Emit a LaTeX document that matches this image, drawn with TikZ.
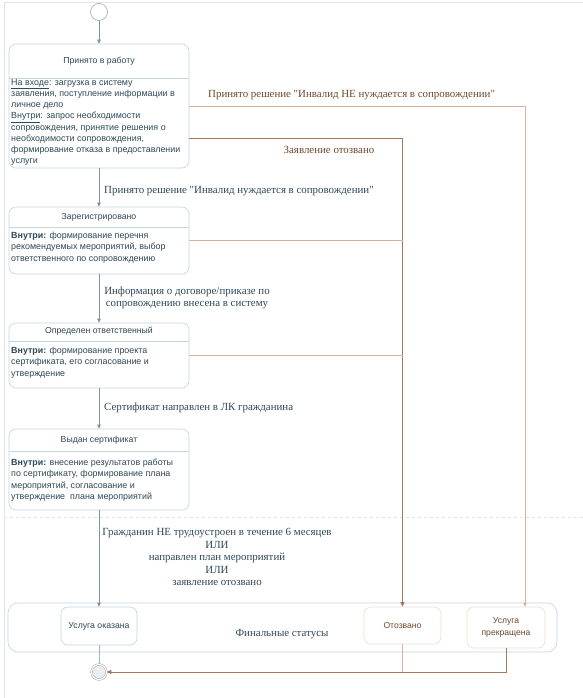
\documentclass[tikz,border=0pt]{standalone}
\usepackage{fontspec}
\setmainfont{Liberation Serif}
\newfontfamily\lblfont{Liberation Serif}
\newfontfamily\boxfont{Liberation Sans}
\usetikzlibrary{arrows.meta}
\definecolor{stline}{RGB}{196,212,222}
\definecolor{sttext}{RGB}{46,72,88}
\definecolor{arrline}{RGB}{128,148,160}
\definecolor{brline}{RGB}{214,180,158}
\definecolor{brdark}{RGB}{170,118,90}
\definecolor{brtext}{RGB}{112,72,46}
\definecolor{finbr}{RGB}{238,220,208}
\definecolor{framegr}{RGB}{228,228,228}
\tikzset{
  st/.style    ={draw=stline, line width=0.6pt, rounded corners=7pt, fill=white},
  stf/.style   ={draw=finbr, line width=0.6pt, rounded corners=7pt, fill=white},
  sttl/.style  ={font=\boxfont\fontsize{8.7}{11}\selectfont, text=sttext, inner sep=0pt},
  stbd/.style  ={font=\boxfont\fontsize{8.9}{11.2}\selectfont, text=sttext, align=left, inner sep=0pt, anchor=north west},
  finl/.style  ={font=\boxfont\fontsize{8.6}{11.2}\selectfont, text=brtext, align=center, inner sep=0pt},
  lbl/.style   ={font=\lblfont\fontsize{10.9}{12.5}\selectfont, text=sttext, inner sep=0pt},
  lblb/.style  ={lbl, text=brtext},
  ptr/.style   ={draw=arrline, line width=0.6pt, -{Triangle[length=4pt,width=3.5pt]}},
  bptr/.style  ={draw=brline, line width=0.8pt, -{Triangle[length=4pt,width=3.5pt]}},
  bptrd/.style ={draw=brdark, line width=1pt, -{Triangle[length=4.5pt,width=4pt]}},
  bln/.style   ={draw=brline, line width=0.8pt},
}
\begin{document}
\begin{tikzpicture}[x=1pt,y=-1pt]
  \useasboundingbox[fill=white] (0,0) rectangle (583,698);
  % frame
  \draw[framegr,line width=0.6pt] (4,698) -- (4,2) -- (583,2);
  \draw[framegr,line width=0.6pt,dashed] (4,517) -- (583,517);

  % start / end
  \node[circle, draw=stline!80!black, line width=0.6pt, fill=white, minimum size=17pt, inner sep=0pt] (init) at (99,12) {};
  \node[circle, draw=stline!80!black, double=white, double distance=1.2pt, line width=0.5pt, fill=black!7, minimum size=15pt, inner sep=0pt] (endc) at (99,672) {};

  % states
  \node[st, minimum width=180pt, minimum height=124pt] (acc) at (99,106) {};
  \draw[stline,line width=0.6pt] (9,78) -- (189,78);
  \node[sttl] at (99,61) {Принято в работу};
  \node[stbd] at (11,79) {\underline{На входе}: загрузка в систему\\
    заявления, поступление информации в\\
    личное дело\\
    \underline{Внутри}: запрос необходимости\\
    сопровождения, принятие решения о\\
    необходимости сопровождения,\\
    формирование отказа в предоставлении\\
    услуги};

  \node[st, minimum width=180pt, minimum height=67pt] (reg) at (99,240.5) {};
  \draw[stline,line width=0.6pt] (9,227) -- (189,227);
  \node[sttl] at (99,217) {Зарегистрировано};
  \node[stbd] at (11,232) {\textbf{Внутри:} формирование перечня\\
    рекомендуемых мероприятий, выбор\\
    ответственного по сопровождению};

  \node[st, minimum width=180pt, minimum height=65pt] (ass) at (99,355.5) {};
  \draw[stline,line width=0.6pt] (9,341) -- (189,341);
  \node[sttl] at (99,331) {Определен ответственный};
  \node[stbd] at (11,347) {\textbf{Внутри:} формирование проекта\\
    сертификата, его согласование и\\
    утверждение};

  \node[st, minimum width=180pt, minimum height=81pt] (cert) at (99,469.5) {};
  \draw[stline,line width=0.6pt] (9,451) -- (189,451);
  \node[sttl] at (99,440) {Выдан сертификат};
  \node[stbd] at (11,459) {\textbf{Внутри:} внесение результатов работы\\
    по сертификату, формирование плана\\
    мероприятий, согласование и\\
    утверждение\ \ плана мероприятий};

  % final statuses
  \node[st, rounded corners=10pt, minimum width=549pt, minimum height=49pt] (fin) at (282.5,627.5) {};
  \node[lbl] at (282,634) {Финальные статусы};
  \node[st, minimum width=76pt, minimum height=38pt, sttl] (ok) at (99,626) {Услуга оказана};
  \node[stf, minimum width=77pt, minimum height=37pt, finl] (otz) at (402.5,625.5) {Отозвано};
  \node[stf, minimum width=78pt, minimum height=41pt, finl] (prek) at (506,627.5) {Услуга\\прекращена};

  % transitions
  \draw[ptr] (init) -- (acc);
  \draw[ptr] (acc) -- (reg);
  \node[lbl, anchor=west] at (104,191) {Принято решение "Инвалид нуждается в сопровождении"};
  \draw[ptr] (reg) -- (ass);
  \node[lbl, align=center] at (187,298) {Информация о договоре/приказе по\\сопровождению внесена в систему};
  \draw[ptr] (ass) -- (cert);
  \node[lbl, anchor=west] at (104,408) {Сертификат направлен в ЛК гражданина};
  \draw[ptr] (cert) -- (ok);
  \node[lbl, align=center] at (217,557) {Гражданин НЕ трудоустроен в течение 6 месяцев\\ИЛИ\\направлен план мероприятий\\ИЛИ\\заявление отозвано};

  \draw[bptr] (acc.east) -| ([xshift=19pt]prek.north);
  \node[lblb, anchor=west] at (208,95) {Принято решение "Инвалид НЕ нуждается в сопровождении"};
  \draw[bptrd] ([yshift=-32pt]acc.east) -| (otz.north);
  \node[lblb] at (329,150) {Заявление отозвано};
  \draw[bln] (reg.east) -- (reg.east -| otz.north);
  \draw[bln] (ass.east) -- (ass.east -| otz.north);

  \draw[draw=arrline!70, line width=0.6pt] (ok) -- (endc);
  \draw[bln] (otz.south) -- (otz.south |- endc);
  \draw[bptrd] (prek.south) |- (endc);
\end{tikzpicture}
\end{document}
